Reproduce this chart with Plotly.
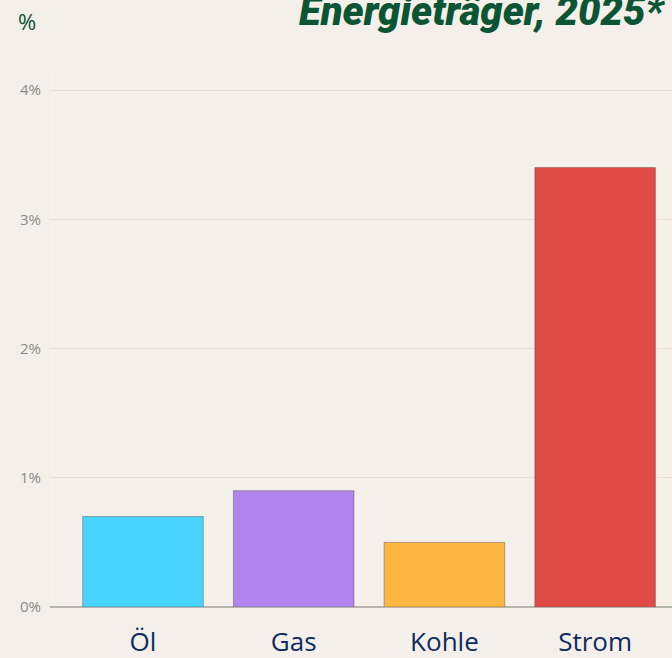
import plotly.graph_objects as go

categories = ["Öl", "Gas", "Kohle", "Strom"]
values = [0.7, 0.9, 0.5, 3.4]
colors = ["#48d4ff", "#b085ee", "#fdb642", "#e04a47"]
y_ticks = [0, 1, 2, 3, 4]
y_ticklabels = ["0%", "1%", "2%", "3%", "4%"]
title_text = "Energieträger, 2025*"
unit_text = "%"

fig = go.Figure(go.Bar(
    x=list(range(len(categories))),
    y=values,
    width=0.8,
    marker=dict(color=colors, line=dict(color="rgba(90,80,70,0.45)", width=1)),
    hoverinfo="skip",
))

fig.update_layout(
    width=672, height=658,
    paper_bgcolor="#f4f0e9",
    plot_bgcolor="#f5f1ea",
    margin=dict(l=50, r=0, t=67, b=51, autoexpand=False),
    showlegend=False,
    xaxis=dict(
        range=[-0.617, 3.51],
        tickmode="array",
        tickvals=list(range(len(categories))),
        ticktext=categories,
        tickfont=dict(family="Open Sans, Noto Sans, sans-serif", size=26, color="#0d2b63"),
        showgrid=False,
        zeroline=False,
        showline=False,
        ticks="",
        ticklabelstandoff=17,
        automargin=False,
    ),
    yaxis=dict(
        range=[0, 4.178],
        tickmode="array",
        tickvals=y_ticks,
        ticktext=y_ticklabels,
        tickfont=dict(family="Open Sans, Noto Sans, sans-serif", size=15, color="#8a8a8a"),
        showgrid=True,
        gridcolor="#e3dfd8",
        gridwidth=1,
        zeroline=True,
        zerolinecolor="#b8b4ae",
        zerolinewidth=2,
        ticks="",
        ticklabelstandoff=8,
        automargin=False,
    ),
    annotations=[
        dict(
            text=f"<i>{title_text}</i>",
            xref="paper", yref="paper",
            x=1.0, y=1.0, xanchor="right", yanchor="bottom",
            yshift=30, xshift=-5,
            showarrow=False,
            font=dict(family="Roboto, sans-serif", size=40, color="#0b5535", weight=900),
        ),
        dict(
            text=unit_text,
            xref="paper", yref="paper",
            x=0, y=1.0, xanchor="left", yanchor="bottom",
            xshift=-34, yshift=29,
            showarrow=False,
            font=dict(family="Open Sans, Noto Sans, sans-serif", size=22, color="#0b5535"),
        ),
    ],
)

fig.write_html(
    "out.html",
    config={"displayModeBar": False},
    post_script="document.body.style.margin='0';document.body.style.padding='0';",
)
